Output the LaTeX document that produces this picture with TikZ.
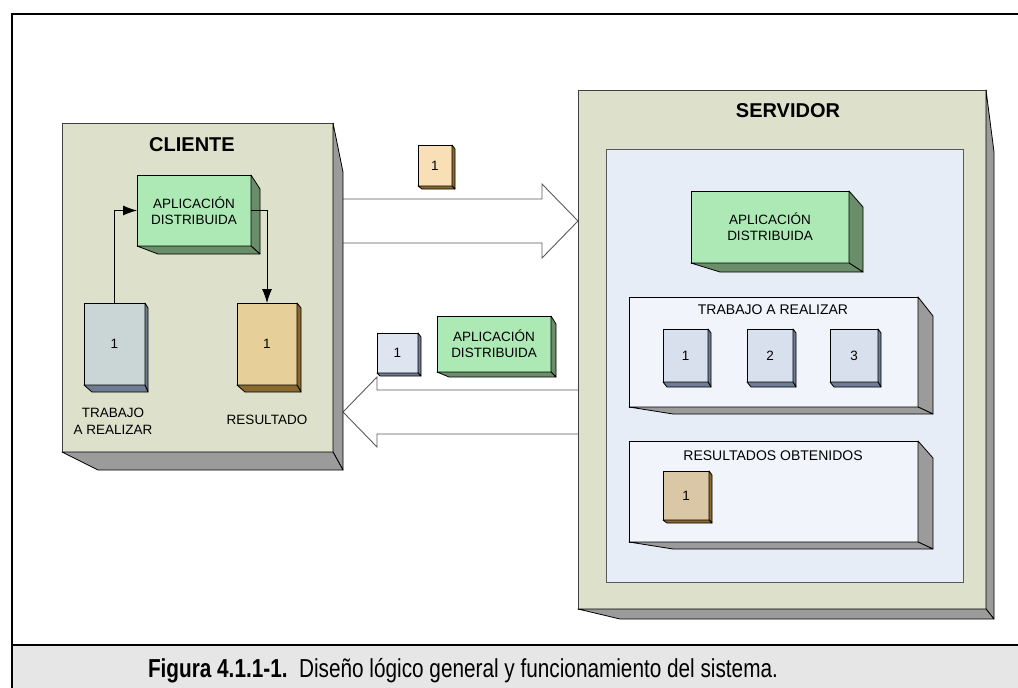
\documentclass[tikz,border=0pt]{standalone}
\usepackage{fontspec}
\setmainfont{Liberation Sans}
\usetikzlibrary{calc,arrows.meta}
\definecolor{khaki}{HTML}{DDE0CB}
\definecolor{sidegray}{HTML}{9B9B9B}
\definecolor{lgreen}{HTML}{ADE9B5}
\definecolor{dgreen}{HTML}{6A8E6A}
\definecolor{ctrabc}{HTML}{CAD6D6}
\definecolor{slate}{HTML}{6F7C94}
\definecolor{cresc}{HTML}{E6CF98}
\definecolor{brownside}{HTML}{8B6A2F}
\definecolor{peach}{HTML}{F8DFB5}
\definecolor{smallblue}{HTML}{DEE4F0}
\definecolor{jobc}{HTML}{D8E0EE}
\definecolor{tanc}{HTML}{D9C7A6}
\definecolor{innerblue}{HTML}{E6EDF7}
\definecolor{panelc}{HTML}{F1F4FA}
\definecolor{bandc}{HTML}{E6E6E6}
\tikzset{
  face/.style={draw=black,line width=0.8pt,rectangle,inner sep=0pt,outer sep=0pt,
    align=center,font=\fontsize{13.5}{16}\selectfont},
  side/.style={draw=black,line width=0.8pt,line join=round},
  title/.style={inner sep=0pt,font=\fontsize{20}{22}\selectfont\bfseries},
  lbl/.style={inner sep=0pt,align=center,font=\fontsize{13.5}{17}\selectfont},
  plbl/.style={inner sep=0pt,font=\fontsize{14}{16}\selectfont},
  blockarrow/.style={draw=black!65,fill=white,line width=0.9pt,line join=miter},
  flow/.style={-{Latex[length=14pt,width=10pt]},line width=0.8pt}
}
\newcommand\xbox[7]{\node[face,#1,minimum width={(#5)-(#3)},minimum height={(#6)-(#4)}] (#2) at ({((#3)+(#5))/2},{((#4)+(#6))/2}) {#7};}
\newcommand\extrude[6]{%
  \filldraw[side,fill=#6] (#1.north east) -- ++(#2,#3) -- ($(#1.south east)+(#2,#4)$) -- (#1.south east) -- cycle;
  \filldraw[side,fill=#6] (#1.south west) -- ($(#1.south west)+(#5,#4)$) -- ($(#1.south east)+(#2,#4)$) -- (#1.south east) -- cycle;
}
\begin{document}
\begin{tikzpicture}[x=1pt,y=-1pt]
\useasboundingbox (0,0) rectangle (1018,688);
\clip (0,0) rectangle (1018,688);
% frame and caption band
\fill[bandc] (12,645) rectangle (1030,700);
\draw[line width=2pt] (12,700) -- (12,14) -- (1030,14);
\draw[line width=2pt] (12,645) -- (1030,645);
\node[inner sep=0pt,anchor=base] (cap) at (463,677) {\resizebox{630pt}{\height}{\fontsize{26}{28}\selectfont\textbf{Figura 4.1.1-1.}\ \ Diseño lógico general y funcionamiento del sistema.}};
% block arrows
\filldraw[blockarrow] (343,199) -- (542,199) -- (542,184) -- (578,221) -- (542,258) -- (542,243) -- (343,243);
\filldraw[blockarrow] (578,390) -- (377,390) -- (377,377) -- (343,412) -- (377,447) -- (377,434) -- (578,434);
% client
\xbox{fill=khaki,draw=black!75}{client}{62}{123}{333}{452}{}
\extrude{client}{10}{49}{18}{36}{sidegray}
\node[title] (clientlbl) at (192,145) {CLIENTE};
\xbox{fill=lgreen}{capp}{137}{175}{251}{246}{APLICACIÓN\\DISTRIBUIDA}
\extrude{capp}{9}{14}{8}{21}{dgreen}
\xbox{fill=ctrabc}{ctrab}{84}{303}{145}{385}{1}
\extrude{ctrab}{3}{5}{7}{8}{slate}
\xbox{fill=cresc}{cres}{237}{303}{297}{385}{1}
\extrude{cres}{4}{5}{7}{8}{brownside}
\node[lbl] (ctrablbl) at (113,421) {TRABAJO\\A REALIZAR};
\node[lbl] (creslbl) at (267,420) {RESULTADO};
\draw[flow] (ctrab.north) |- (capp.west);
\draw[flow] (capp.east) -| (cres.north);
% packets in transit
\xbox{fill=peach}{pkt1}{418}{145}{452}{186}{1}
\extrude{pkt1}{3}{4}{3}{4}{brownside}
\xbox{fill=smallblue}{pkt2}{377}{333}{418}{373}{1}
\extrude{pkt2}{3}{4}{3}{3}{slate}
\xbox{fill=lgreen}{mapp}{437}{316}{551}{372}{APLICACIÓN\\DISTRIBUIDA}
\extrude{mapp}{5}{8}{5}{12}{dgreen}
% server
\xbox{fill=khaki,draw=black!75}{server}{578}{90}{986}{609}{}
\extrude{server}{8}{62}{10}{42}{sidegray}
\node[title] (serverlbl) at (788,111) {SERVIDOR};
\xbox{fill=innerblue,draw=black!65}{inner}{606}{149}{963}{582}{}
\xbox{fill=lgreen}{sapp}{691}{191}{849}{263}{APLICACIÓN\\DISTRIBUIDA}
\extrude{sapp}{14}{16}{9}{29}{dgreen}
\xbox{fill=panelc}{tpanel}{629}{297}{918}{407}{}
\extrude{tpanel}{15}{19}{7}{44}{sidegray}
\node[plbl] (tpanellbl) at (773,310) {TRABAJO A REALIZAR};
\xbox{fill=jobc}{job1}{663}{329}{708}{382}{1}
\extrude{job1}{3}{4}{5}{4}{slate}
\xbox{fill=jobc}{job2}{747}{329}{793}{382}{2}
\extrude{job2}{3}{4}{5}{4}{slate}
\xbox{fill=jobc}{job3}{830}{329}{878}{382}{3}
\extrude{job3}{3}{4}{5}{4}{slate}
\xbox{fill=panelc}{rpanel}{629}{441}{918}{542}{}
\extrude{rpanel}{15}{17}{7}{44}{sidegray}
\node[plbl] (rpanellbl) at (773,456) {RESULTADOS OBTENIDOS};
\xbox{fill=tanc}{rbox}{663}{471}{709}{520}{1}
\extrude{rbox}{3}{4}{3}{4}{brownside}
\end{tikzpicture}
\end{document}
